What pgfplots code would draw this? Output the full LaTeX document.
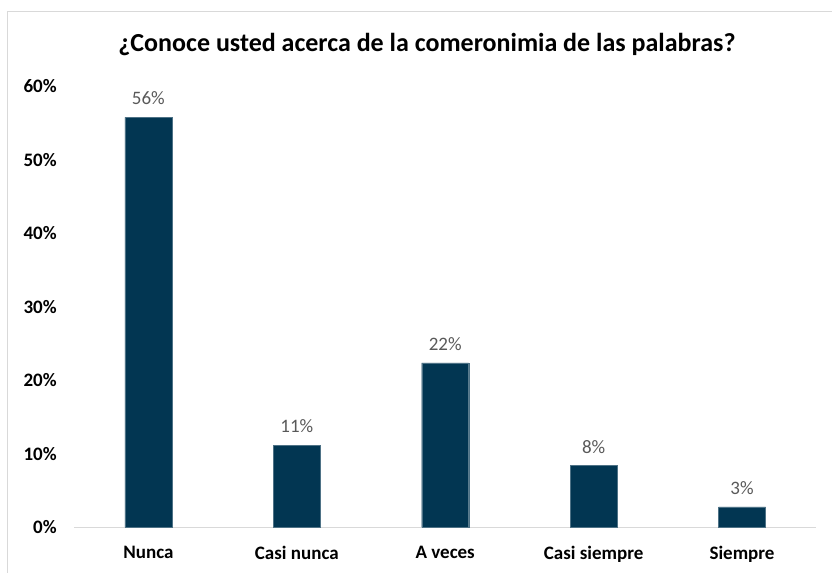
\documentclass[border=0pt]{standalone}
\usepackage{pgfplots}
\pgfplotsset{compat=1.18}
\usepackage{fontspec}
\setmainfont{Carlito}
\definecolor{barblue}{RGB}{2,54,82}
\definecolor{lblgray}{RGB}{89,89,89}
\definecolor{axgray}{RGB}{217,217,217}
\pgfplotsset{/pgf/number format/assume math mode=true}
\begin{document}
\begin{tikzpicture}[x=1bp,y=1bp]
\path[use as bounding box] (0,0) rectangle (832,573);
\draw[axgray, line width=1bp] (7,0) -- (7,561) -- (832,561);
\node[font=\fontsize{26bp}{30bp}\selectfont\bfseries] at (427,528) {¿Conoce usted acerca de la comeronimia de las palabras?};
\begin{axis}[
  at={(50,62)}, anchor=south west,
  scale only axis, width=742bp, height=441bp,
  xmin=-0.5, xmax=4.5, ymin=0, ymax=60,
  ybar, bar width=47bp,
  axis x line*=bottom, axis y line=none,
  x axis line style={axgray, line width=1bp},
  xtick=data, xticklabels={Nunca,Casi nunca,A veces,Casi siempre,Siempre},
  xtick style={draw=none},
  xticklabel style={font=\fontsize{19bp}{22bp}\selectfont\bfseries, yshift=-11bp},
  nodes near coords={\pgfmathprintnumber[fixed,precision=0]{\pgfplotspointmeta}\%},
  nodes near coords style={font=\fontsize{19bp}{22bp}\selectfont, text=lblgray, yshift=9bp},
  clip=false,
]
\addplot[fill=barblue, draw=barblue!70!white] coordinates {(0,55.8) (1,11.2) (2,22.4) (3,8.4) (4,2.8)};
\end{axis}
\begin{axis}[
  at={(50,62)}, anchor=south west,
  scale only axis, width=742bp, height=441bp,
  xmin=-0.5, xmax=4.5, ymin=0, ymax=60,
  axis x line=none, axis y line*=left, y axis line style={draw=none},
  ytick={0,10,20,30,40,50,60}, ytick style={draw=none},
  yticklabel={\pgfmathprintnumber{\tick}\%},
  yticklabel style={font=\fontsize{19bp}{22bp}\selectfont\bfseries, xshift=-14bp},
]
\end{axis}
\end{tikzpicture}
\end{document}
